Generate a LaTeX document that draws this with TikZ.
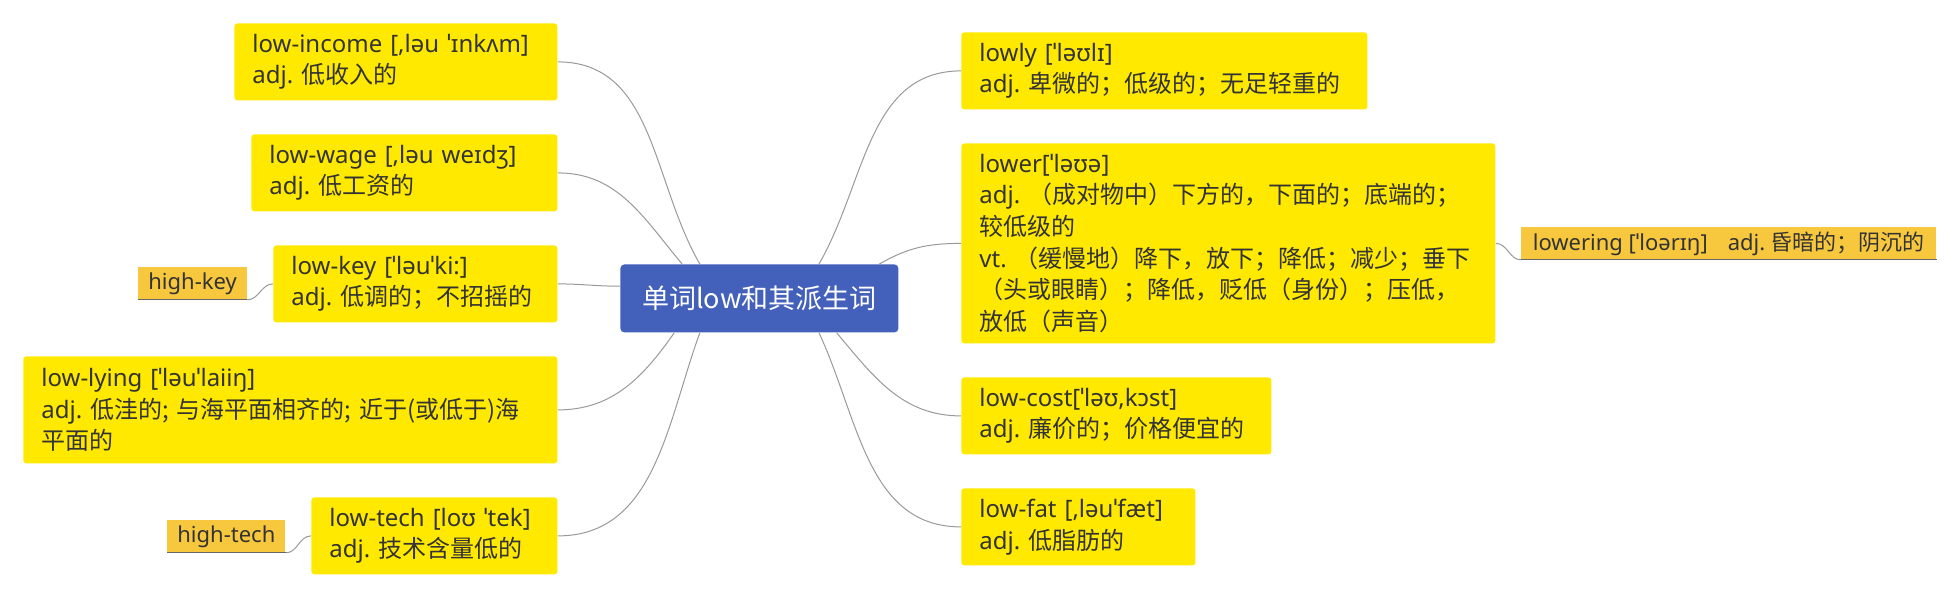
\documentclass[tikz,border=0pt]{standalone}
\usepackage{fontspec}
\setmainfont{Noto Sans CJK SC}
\newfontfamily\ipa{Noto Sans}
\usepackage{xcolor}
\usepackage{tikz}

\definecolor{wordyellow}{HTML}{FFE900}
\definecolor{rootblue}{HTML}{4360BA}
\definecolor{relorange}{HTML}{F7C83E}
\definecolor{inkgray}{HTML}{333333}
% word class label, set in the Latin face
\newcommand\wcl[1]{{\ipa #1\ }}

\begin{document}
\begin{tikzpicture}[x=0.5pt,y=-0.5pt,
  word/.style={fill=wordyellow,rounded corners=1.5pt,anchor=north west,align=left,
    inner xsep=9pt,inner ysep=0pt,text=inkgray,font=\fontsize{12}{15.8}\selectfont},
  root/.style={fill=rootblue,rounded corners=2pt,anchor=north west,text=white,
    minimum width=139pt,minimum height=34pt,inner sep=0pt,font=\fontsize{13.5}{16}\selectfont},
  rel/.style={fill=relorange,anchor=north west,inner xsep=5pt,inner ysep=0pt,
    minimum height=16pt,text=inkgray,font=\fontsize{11}{14}\selectfont},
  link/.style={draw=gray!80,line width=0.5pt},
  uline/.style={draw=black!60,line width=0.6pt}]
\useasboundingbox (0,0) rectangle (1957,595);
% centre topic
\node[root] (c) at (620,264) {单词low和其派生词};
% left branches
\node[word,text width=143.5pt,minimum height=38.5pt] (inc) at (234,23)
  {{\ipa low-income [,ləu ˈɪnkʌm]}\\\wcl{adj.}低收入的};
\node[word,text width=135pt,minimum height=38.5pt] (wag) at (251,134)
  {{\ipa low-wage [,ləu weɪdʒ]}\\\wcl{adj.}低工资的};
\node[word,text width=124pt,minimum height=38.5pt] (key) at (273,245)
  {{\ipa low-key [ˈləuˈki:]}\\\wcl{adj.}低调的；不招摇的};
\node[word,text width=249pt,minimum height=53.5pt] (lyi) at (23,356)
  {{\ipa low-lying [ˈləuˈlaiiŋ]}\\\wcl{adj.}低洼的; 与海平面相齐的; 近于(或低于)海\\平面的};
\node[word,text width=105pt,minimum height=38.5pt] (tec) at (311,497)
  {{\ipa low-tech [loʊ ˈtek]}\\\wcl{adj.}技术含量低的};
% right branches
\node[word,text width=185pt,minimum height=38.5pt] (lwy) at (961,32)
  {{\ipa lowly [ˈləʊlɪ]}\\\wcl{adj.}卑微的；低级的；无足轻重的};
\node[word,text width=249pt,minimum height=100pt] (lwr) at (961,143)
  {{\ipa lower[ˈləʊə]}\\\wcl{adj.}（成对物中）下方的，下面的；底端的；\\较低级的\\
   \wcl{vt.}（缓慢地）降下，放下；降低；减少；垂下\\（头或眼睛）；降低，贬低（身份）；压低，\\放低（声音）};
\node[word,text width=137pt,minimum height=38.5pt] (cst) at (961,377)
  {{\ipa low-cost[ˈləʊ,kɔst]}\\\wcl{adj.}廉价的；价格便宜的};
\node[word,text width=99pt,minimum height=38.5pt] (fat) at (961,488)
  {{\ipa low-fat [,ləuˈfæt]}\\\wcl{adj.}低脂肪的};
% related words
\node[rel,minimum width=53.5pt] (hk) at (138,267) {\ipa high-key};
\node[rel,minimum width=58pt] (ht) at (167,520) {\ipa high-tech};
\node[rel,minimum width=207.5pt] (lg) at (1521,227)
  {{\ipa lowering [ˈloərɪŋ]}\hspace{10pt}\wcl{adj.}昏暗的；阴沉的};
% connectors
\draw[link] (c.150) to[out=120,in=0] (inc.east);
\draw[link] (c.156) to[out=130,in=0] (wag.east);
\draw[link] (c.175) to[out=180,in=0] (key.east);
\draw[link] (c.202) to[out=235,in=0] (lyi.east);
\draw[link] (c.210) to[out=250,in=0] (tec.east);
\draw[link] (c.30) to[out=60,in=180] (lwy.west);
\draw[link] (c.16) to[out=30,in=180] (lwr.west);
\draw[link] (c.336) to[out=-50,in=180] (cst.west);
\draw[link] (c.330) to[out=-65,in=180] (fat.west);
\draw[link] (key.west) to[out=180,in=0] (hk.south east);
\draw[link] (tec.west) to[out=180,in=0] (ht.south east);
\draw[link] (lwr.east) to[out=0,in=180] (lg.south west);
\draw[uline] (hk.south west) -- (hk.south east);
\draw[uline] (ht.south west) -- (ht.south east);
\draw[uline] (lg.south west) -- (lg.south east);
\end{tikzpicture}
\end{document}
